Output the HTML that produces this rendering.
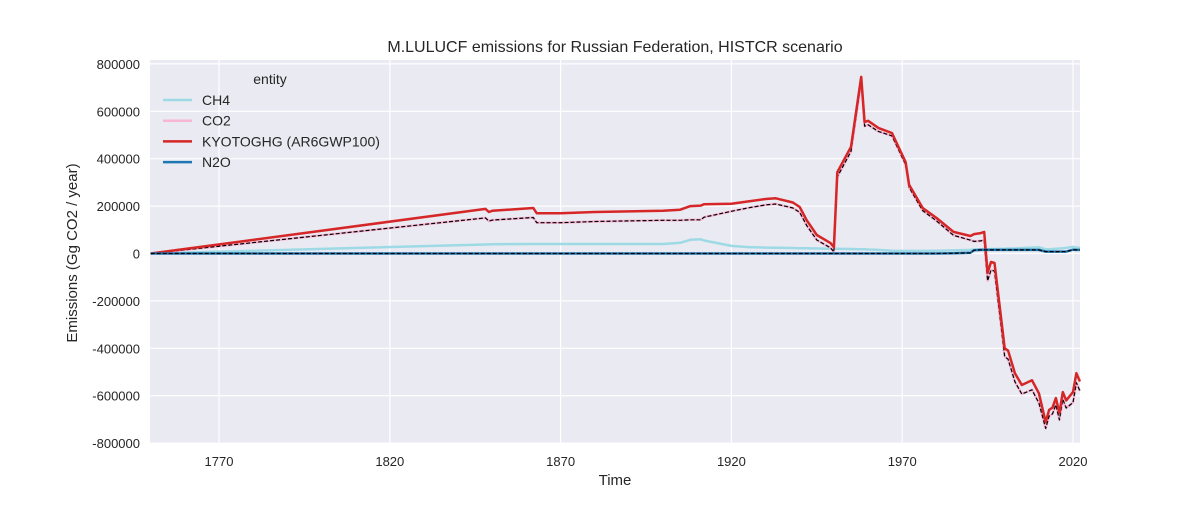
<!DOCTYPE html>
<html><head><meta charset="utf-8"><style>
body{margin:0;background:#fff;}
svg text{font-family:"Liberation Sans","DejaVu Sans",sans-serif;fill:#262626;}
</style></head><body>
<svg id="chart" width="1200" height="500" xmlns="http://www.w3.org/2000/svg">
<rect x="150" y="60" width="930" height="383" fill="#eaeaf2"/>
<g id="grid"></g>
<g id="series"></g>
<g id="axes"></g>
<text x="615" y="52" text-anchor="middle" font-size="16">M.LULUCF emissions for Russian Federation, HISTCR scenario</text>
<text x="615" y="485" text-anchor="middle" font-size="15">Time</text>
<text transform="translate(77,253) rotate(-90)" text-anchor="middle" font-size="15">Emissions (Gg CO2 / year)</text>
<g id="legend">
<text x="270" y="84" text-anchor="middle" font-size="14">entity</text>
</g>
</svg>
<script>
const years=[1750,1848,1849,1850,1862,1863,1870,1880,1900,1905,1908,1911,1912,1920,1925,1930,1933,1938,1940,1942,1945,1949,1950,1951,1955,1958,1959,1960,1963,1967,1971,1972,1976,1980,1985,1990,1991,1993,1994,1995,1996,1997,2000,2001,2003,2005,2008,2010,2012,2013,2014,2015,2016,2017,2018,2020,2021,2022];
const kyoto=[0,188000,175000,180000,192000,170000,170000,175000,180000,185000,200000,202000,208000,210000,220000,230000,233000,215000,196000,141000,78000,44000,27000,343000,450000,745000,555000,560000,530000,508000,386000,290000,192000,150000,91000,74000,82000,86000,91000,-82000,-36000,-40000,-400000,-410000,-505000,-555000,-535000,-590000,-712000,-660000,-650000,-610000,-673000,-585000,-620000,-585000,-505000,-540000];
const ch4=[0,38000,38500,39000,40000,40000,40000,40000,40000,45000,58000,60000,55000,32000,27000,25000,24000,23000,22000,22000,21000,20000,20000,20000,19000,18000,18000,17000,15000,12000,11000,11000,11000,12000,13000,15000,17000,18000,18000,18000,19000,19000,20000,21000,21000,23000,25000,26000,18000,18000,19000,20000,21000,22000,24000,28000,25000,25000];
const n2o=[0,0,0,0,0,0,0,0,0,0,0,0,0,0,0,0,0,0,0,0,0,0,0,0,0,0,0,0,0,0,0,0,0,0,1000,3000,14000,15000,15000,15000,15000,15000,15000,15000,15000,15000,15000,15000,8000,8000,8000,8000,8000,8000,8000,16000,15000,15000];
const co2=[0,150000,136500,141000,152000,130000,130000,135000,140000,140000,142000,142000,153000,178000,193000,205000,209000,192000,174000,119000,57000,24000,7000,323000,431000,727000,537000,543000,515000,496000,375000,279000,181000,138000,77000,56000,51000,53000,58000,-115000,-70000,-74000,-435000,-446000,-541000,-593000,-575000,-631000,-738000,-686000,-677000,-638000,-702000,-615000,-652000,-629000,-545000,-580000];
const xTicks=[1770,1820,1870,1920,1970,2020];
const yTicks=[-800000,-600000,-400000,-200000,0,200000,400000,600000,800000];
const NS="http://www.w3.org/2000/svg";
const X=v=>150.7+(v-1750)*3.416;
const Y=v=>253.5-v*47.4/200000;
function el(t,a,p){const e=document.createElementNS(NS,t);for(const k in a)e.setAttribute(k,a[k]);document.getElementById(p).appendChild(e);return e;}
xTicks.forEach(t=>{
 const g=el('line',{x1:X(t),x2:X(t),y1:60,y2:443,stroke:'#fff','stroke-width':1.2},'grid');
 
 
 const tx=el('text',{x:X(t),y:466,'text-anchor':'middle','font-size':13},'axes');
 
 
 tx.textContent=t;
});
yTicks.forEach(t=>{
 const g=el('line',{x1:150,x2:1080,y1:Y(t),y2:Y(t),stroke:'#fff','stroke-width':1.2},'grid');
 
 
 const tx=el('text',{x:140,y:Y(t)+5,'text-anchor':'end','font-size':13},'axes');
 
 
 tx.textContent=t;
});
function pts(arr){return arr.map((v,i)=>X(years[i]).toFixed(1)+','+Y(v).toFixed(1)).join(' ');}
function line(arr,color,w,name,dash){
 const p=el('polyline',{points:pts(arr),fill:'none',stroke:color,'stroke-width':w,'stroke-linejoin':'round'},'series');
 if(dash)p.setAttribute('stroke-dasharray',dash);
 
 
}
line(ch4,'#9edae5',2.5,'ch4-line');
line(co2,'#f7b6d2',2.5,'co2-line');
line(co2,'#000',1.2,'co2-dashed-line','4,2');
line(kyoto,'#d62728',2.5,'kyotoghg-line');
line(n2o,'#1f77b4',2.5,'n2o-line');
line(n2o,'#000',1.2,'n2o-dashed-line','4,2');
const leg=[['CH4','#9edae5'],['CO2','#f7b6d2'],['KYOTOGHG (AR6GWP100)','#d62728'],['N2O','#1f77b4']];
leg.forEach((l,i)=>{
 const y=100+i*20.7;
 const ln=el('line',{x1:163,x2:192,y1:y,y2:y,stroke:l[1],'stroke-width':2.5},'legend');
 
 
 const t=el('text',{x:202,y:y+5,'font-size':14},'legend');
 
 
 t.textContent=l[0];
});
</script>
</body></html>
